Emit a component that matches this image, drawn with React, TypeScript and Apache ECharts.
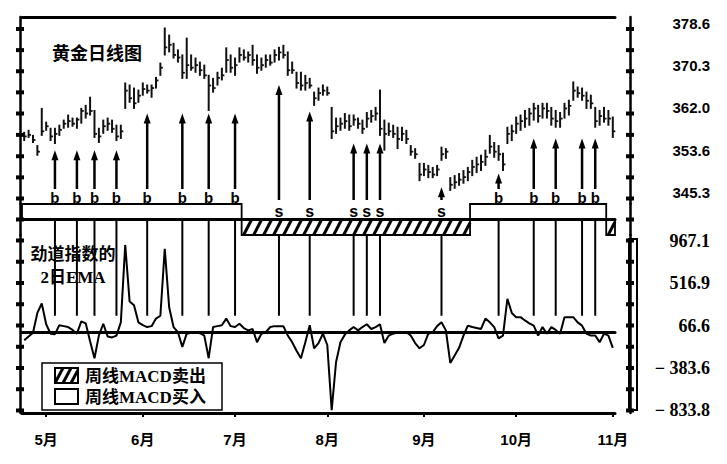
import React, { useEffect, useRef } from 'react';
import * as echarts from 'echarts';

// ---------- data ----------
const monthNames = ['4月', '5月', '6月', '7月', '8月', '9月', '10月', '11月'];
const tradingDaysPerMonth = [5, 22, 21, 21, 22, 21, 22, 1];

const highs = [
  358.3, 358.7, 357.7, 355.7, 363.0, 360.3, 359.1, 359.1, 359.7, 360.7,
  361.7, 361.1, 361.1, 363.0, 363.6, 365.2, 362.6, 359.1, 360.7, 361.1,
  360.7, 359.7, 359.7, 368.0, 367.6, 367.0, 366.6, 368.0, 367.6, 367.6,
  369.1, 371.9, 378.8, 377.4, 375.8, 374.5, 373.5, 376.8, 373.5, 372.9,
  372.1, 371.5, 369.5, 368.9, 370.1, 370.9, 374.9, 373.5, 372.9, 374.9,
  374.5, 374.1, 375.4, 373.5, 372.9, 373.5, 373.5, 374.5, 375.0, 375.4,
  374.1, 372.1, 370.1, 370.1, 369.5, 368.9, 366.2, 367.0, 367.6, 367.2,
  363.2, 361.1, 361.1, 362.0, 361.7, 361.7, 361.1, 360.7, 362.2, 362.6,
  363.2, 366.6, 360.7, 360.1, 359.7, 359.3, 359.3, 358.7, 355.7, 355.1,
  352.2, 352.2, 351.8, 351.4, 351.8, 355.4, 355.1, 349.4, 349.8, 350.2,
  350.8, 351.4, 352.8, 353.4, 353.8, 354.8, 357.7, 356.3, 355.7, 354.2,
  359.3, 359.7, 361.3, 361.7, 362.6, 363.0, 364.0, 363.6, 364.0, 364.0,
  363.2, 362.6, 362.2, 364.0, 364.6, 368.2, 367.2, 367.0, 366.2, 365.6,
  363.2, 362.6, 363.2, 362.6, 361.3,
];
const lows = [
  356.7, 357.3, 356.3, 353.8, 357.7, 358.7, 356.7, 356.1, 357.7, 359.1,
  359.3, 359.5, 359.1, 360.1, 361.1, 361.7, 357.3, 356.3, 358.1, 358.7,
  358.3, 356.7, 357.1, 363.0, 364.2, 363.0, 364.2, 365.6, 366.0, 365.2,
  367.0, 369.5, 373.5, 374.1, 372.9, 372.1, 368.9, 368.9, 370.5, 370.1,
  369.5, 368.9, 362.6, 366.2, 367.6, 368.6, 370.1, 370.1, 369.5, 372.1,
  372.5, 372.1, 371.5, 369.9, 370.5, 371.1, 371.5, 372.1, 372.5, 372.9,
  369.5, 369.9, 367.0, 366.6, 366.6, 367.0, 363.6, 364.6, 365.6, 365.6,
  357.1, 358.1, 358.7, 359.1, 358.7, 359.7, 359.1, 358.1, 359.3, 360.3,
  360.7, 357.7, 354.8, 357.7, 357.3, 355.1, 356.7, 356.1, 353.8, 353.2,
  348.8, 349.8, 349.4, 349.4, 349.8, 352.8, 353.2, 346.9, 347.3, 347.9,
  348.3, 348.8, 349.8, 350.4, 350.8, 351.8, 354.2, 353.4, 352.8, 350.8,
  356.1, 356.7, 358.1, 358.7, 359.3, 359.7, 360.7, 360.3, 361.1, 361.1,
  359.7, 359.3, 359.3, 361.1, 361.7, 364.6, 365.2, 364.6, 363.0, 363.0,
  359.3, 359.7, 360.3, 359.7, 357.3,
];
const closes = [
  357.5, 357.8, 356.8, 354.5, 358.5, 359.5, 357.5, 358.0, 358.8, 360.0,
  360.5, 360.0, 360.8, 362.5, 362.0, 362.5, 358.0, 357.5, 359.5, 360.0,
  359.0, 357.5, 358.5, 366.5, 365.0, 364.0, 365.5, 366.8, 366.5, 367.0,
  368.5, 371.0, 375.0, 375.5, 373.5, 373.0, 370.0, 371.5, 371.0, 371.5,
  370.5, 369.5, 367.5, 367.0, 369.0, 369.5, 372.5, 371.0, 371.5, 373.5,
  373.0, 373.5, 372.5, 371.0, 371.5, 372.5, 372.0, 373.5, 374.0, 373.5,
  370.5, 370.5, 368.0, 367.5, 368.0, 367.5, 365.0, 366.0, 366.5, 366.0,
  358.5, 359.5, 360.0, 360.5, 359.5, 360.8, 360.0, 359.0, 361.0, 361.5,
  362.0, 359.0, 358.0, 358.5, 358.0, 357.0, 358.0, 357.0, 354.5, 354.0,
  350.0, 351.0, 350.5, 350.0, 351.0, 354.0, 354.5, 348.0, 348.5, 349.0,
  349.5, 350.5, 351.5, 352.0, 352.5, 353.5, 355.5, 354.5, 354.0, 352.0,
  358.0, 358.5, 360.0, 360.5, 361.0, 362.0, 363.0, 361.5, 363.0, 362.5,
  361.0, 360.5, 361.0, 363.0, 363.5, 366.5, 366.0, 365.5, 364.5, 364.0,
  360.5, 361.5, 361.0, 361.0, 358.5,
];
// 2-day EMA of force index
const forceEma2 = [
  -90, -50, -10, 200, 300, 80, -20, -25, 70, 60,
  50, 20, -20, 110, 90, -100, -280, -40, 85, -50,
  -60, -40, 100, 920, 320, 280, 100, 70, 50, 60,
  140, 170, 880, 260, 50, -5, -160, -20, -10, -8,
  -15, -40, -280, 50, 60, 70, 140, 60, 50, 85,
  40, 15, 30, -110, -20, -5, 50, 60, 60, 60,
  -40, -110, -200, -280, -110, 70, -175, -120, -20, -140,
  -830, -320, -110, -30, 15, 50, 15, 50, 80, 30,
  50, 80, -120, -40, -20, -5, -5, -5, -40, -120,
  -175, -140, -20, -5, 60, 100, 15, -330, -250, -170,
  -40, 65, 50, 40, 30, 140, 100, 50, -70, -40,
  350, 200, 155, 155, 120, 90, 65, -40, 50, -20,
  50, 20, -20, 155, 155, 155, 100, 65, -20, -40,
  -40, -110, -20, -40, -170,
];

// [day index, arrow tip price]
const buySignals = [
  [7, 354.8], [12, 354.8], [16, 354.8], [21, 354.8],
  [28, 362.0], [36, 362.0], [42, 362.0], [48, 362.0],
  [108, 350.2], [116, 357.1], [121, 357.1], [127, 357.1], [130, 357.1],
];
const sellSignals = [
  [58, 367.6], [65, 362.4], [75, 356.1], [78, 356.1], [81, 356.1], [95, 347.5],
];
// [first day, last day, 1 = weekly MACD buy, -1 = weekly MACD sell]
const macdPeriods = [
  [0, 49, 1], [50, 101, -1], [102, 132, 1], [133, 134, -1],
];
const lowerSignalEnd = 170;

const priceMin = 344.22;
const priceMax = 380.96;
const priceTicks = [378.6, 374.45, 370.3, 366.15, 362.0, 357.8, 353.6, 349.45, 345.3];
const priceLabels = [378.6, 370.3, 362.0, 353.6, 345.3];
const bandTicks = [0];
const forceMin = -860.3;
const forceMax = 1025.4;
const forceTicks = [967.1, 742.0, 516.9, 291.75, 66.6, -158.5, -383.6, -608.7, -833.8];
const forceLabels = [967.1, 516.9, 66.6, -383.6, -833.8];

// ---------- categories ----------
const categories: string[] = [];
const monthStart = new Set<number>();
monthNames.forEach((m, mi) => {
  for (let d = 0; d < tradingDaysPerMonth[mi]; d++) {
    if (d === 0 && mi > 0) monthStart.add(categories.length);
    categories.push(m + '#' + (d + 1));
  }
});

function hatch(x: number, y: number, w: number, h: number, gap: number, dx: number, lw: number) {
  const out: any[] = [];
  for (let x0 = x - dx; x0 < x + w; x0 += gap) {
    const tmin = Math.max(0, (x - x0) / dx);
    const tmax = Math.min(1, (x + w - x0) / dx);
    if (tmax <= tmin) continue;
    out.push({
      type: 'line',
      shape: { x1: x0 + dx * tmin, y1: y + h - h * tmin, x2: x0 + dx * tmax, y2: y + h - h * tmax },
      style: { stroke: '#000', lineWidth: lw },
    });
  }
  return out;
}

const W = 727;
const GRID_LEFT = 22;
const GRID_RIGHT = 112;
const LEFT_OFFSET = 2;
const RIGHT_OFFSET = 15;
const grids = [
  { left: GRID_LEFT, right: GRID_RIGHT, top: 17, height: 187 },
  { left: GRID_LEFT, right: GRID_RIGHT, top: 204, height: 31 },
  { left: GRID_LEFT, right: GRID_RIGHT, top: 235, height: 178 },
];

function yAxes(gridIndex: number, min: number, max: number, labels: number[] | null, labelStyle: any) {
  const base = {
    type: 'value', gridIndex, min, max, splitLine: { show: false },
    axisLine: { show: true, onZero: false, lineStyle: { color: '#000', width: 2.5 } },
    axisTick: { show: false },
  };
  return [
    {
      ...base, position: 'right', offset: RIGHT_OFFSET,
      axisLabel: labels ? { show: true, customValues: labels, margin: 80, align: 'right', color: '#000', ...labelStyle } : { show: false },
    },
    { ...base, position: 'left', offset: LEFT_OFFSET, axisLabel: { show: false } },
  ];
}

// tick marks crossing both vertical axis lines (same linear mapping as the grid's value axis)
function axisTickMarks(gridIndex: number, min: number, max: number, ticks: number[]) {
  const g = grids[gridIndex];
  const xs = [GRID_LEFT - LEFT_OFFSET, W - GRID_RIGHT + RIGHT_OFFSET];
  const out: any[] = [];
  ticks.forEach((v) => {
    const y = g.top + ((max - v) / (max - min)) * g.height;
    xs.forEach((ax) => {
      out.push({ type: 'rect', z: 30, shape: { x: ax - 4, y: y - 2, width: 8, height: 4 }, style: { fill: '#000', stroke: 'none' } });
    });
  });
  return out;
}

const catAxisBase = {
  type: 'category', data: categories, boundaryGap: true,
  axisTick: { show: false }, axisLabel: { show: false }, splitLine: { show: false },
};

export default function App() {
  const ref = useRef<HTMLDivElement>(null);
  useEffect(() => {
    document.body.style.margin = '0';
    const chart = echarts.init(ref.current!, null, { renderer: 'svg' });
    const xAxis = [
      { ...catAxisBase, gridIndex: 0, position: 'top', axisLine: { show: true, onZero: false, lineStyle: { color: '#000', width: 3 } } },
      { ...catAxisBase, gridIndex: 1, position: 'bottom', z: 10, axisLine: { show: true, onZero: true, lineStyle: { color: '#000', width: 3 } } },
      {
        ...catAxisBase, gridIndex: 2, position: 'bottom',
        axisLine: { show: true, onZero: false, lineStyle: { color: '#000', width: 3 } },
        axisTick: { show: true, alignWithLabel: true, length: 4, interval: (i: number) => monthStart.has(i), lineStyle: { color: '#000', width: 2 } },
        axisLabel: {
          show: true, interval: (i: number) => monthStart.has(i), margin: 19,
          formatter: (v: string) => v.split('#')[0],
          color: '#000', fontSize: 15, fontWeight: 'bold', fontFamily: 'Liberation Sans, Noto Sans CJK SC',
        },
      },
      { ...catAxisBase, gridIndex: 2, position: 'top', axisLine: { show: true, onZero: true, lineStyle: { color: '#000', width: 3 } } },
    ];
    const yAxis = [
      ...yAxes(0, priceMin, priceMax, priceLabels, {
        fontSize: 15, fontWeight: 'bold', fontFamily: 'Liberation Sans',
        verticalAlign: 'bottom', lineHeight: 12,
        formatter: (v: number) => v.toFixed(1),
      }),
      ...yAxes(1, -1, 1, null, {}),
      ...yAxes(2, forceMin, forceMax, forceLabels, {
        fontSize: 18, fontWeight: 'bold', fontFamily: 'Liberation Serif',
        formatter: (v: number) => (v < 0 ? '\u2212 ' + Math.abs(v).toFixed(1) : v.toFixed(1)),
      }),
    ];
    // yAxis indices: price 0 (right), 1 (left); band 2, 3; force 4, 5

    const arrowSeries = (signals: number[][], baseGap: number) => ({
      type: 'custom', xAxisIndex: 0, yAxisIndex: 0, silent: true, z: 4,
      data: signals, encode: { x: 0, y: 1 },
      renderItem: (_p: any, api: any) => {
        const d = api.value(0);
        const tip = api.coord([d, api.value(1)]);
        const base = api.coord([d, priceMin]);
        const x = tip[0];
        return {
          type: 'group', children: [
            { type: 'line', shape: { x1: x, y1: base[1] - baseGap, x2: x, y2: tip[1] + 8 }, style: { stroke: '#000', lineWidth: 2.5 } },
            { type: 'polygon', shape: { points: [[x - 3.5, tip[1] + 10], [x + 3.5, tip[1] + 10], [x, tip[1]]] }, style: { fill: '#000' } },
          ],
        };
      },
    });

    const labelSeries = (signals: number[][], letter: string) => ({
      type: 'custom', xAxisIndex: 1, yAxisIndex: 2, silent: true, z: 12, clip: false,
      data: signals.map((s) => [s[0], 0]), encode: { x: 0, y: 1 },
      renderItem: (_p: any, api: any) => {
        const d = api.value(0);
        const x = api.coord([d, 0])[0];
        const yTop = api.coord([d, 1])[1];
        const yZero = api.coord([d, 0])[1];
        const yBot = api.coord([d, -1])[1];
        const children: any[] = [];
        if (letter === 'b') {
          children.push({ type: 'text', x, y: yTop - 7, style: { text: 'b', fill: '#000', fontSize: 15, fontWeight: 'bold', fontFamily: 'Liberation Sans', align: 'center', verticalAlign: 'middle' } });
          children.push({ type: 'line', shape: { x1: x, y1: yZero, x2: x, y2: yBot }, style: { stroke: '#000', lineWidth: 2 } });
        } else {
          children.push({ type: 'text', x, y: (yTop + yZero) / 2, style: { text: 's', fill: '#000', fontSize: 16, fontWeight: 'bold', fontFamily: 'Liberation Sans', align: 'center', verticalAlign: 'middle' } });
        }
        return { type: 'group', children };
      },
    });

    const series: any[] = [
      {
        type: 'custom', xAxisIndex: 0, yAxisIndex: 0, silent: true, z: 3,
        data: highs.map((h, i) => [i, h, lows[i], closes[i]]),
        encode: { x: 0, y: [1, 2, 3] },
        renderItem: (_p: any, api: any) => {
          const i = api.value(0);
          const top = api.coord([i, api.value(1)]);
          const bot = api.coord([i, api.value(2)]);
          const cl = api.coord([i, api.value(3)]);
          return {
            type: 'group', children: [
              { type: 'line', shape: { x1: top[0], y1: top[1] - 0.5, x2: bot[0], y2: bot[1] + 0.5 }, style: { stroke: '#111', lineWidth: 2 } },
              { type: 'line', shape: { x1: cl[0], y1: cl[1], x2: cl[0] + 2.5, y2: cl[1] }, style: { stroke: '#111', lineWidth: 1.8 } },
            ],
          };
        },
      },
      arrowSeries(buySignals, 15),
      arrowSeries(sellSignals, 4),
      {
        type: 'custom', xAxisIndex: 1, yAxisIndex: 2, silent: true, z: 5,
        data: macdPeriods, encode: { x: [0, 1], y: 2 },
        renderItem: (_p: any, api: any) => {
          const s = api.value(0), e = api.value(1), k = api.value(2);
          const bw = api.size([1, 0])[0];
          const x0 = api.coord([s, 0])[0] - bw / 2;
          const x1 = api.coord([e, 0])[0] + bw / 2;
          const yZero = api.coord([s, 0])[1];
          const yEdge = api.coord([s, k])[1];
          const top = Math.min(yZero, yEdge);
          const h = Math.abs(yEdge - yZero);
          const children: any[] = [
            { type: 'rect', shape: { x: x0, y: top, width: x1 - x0, height: h }, style: { fill: '#fff', stroke: '#000', lineWidth: 1.8 } },
          ];
          if (k < 0) children.push(...hatch(x0, top, x1 - x0, h, 10, 8, 3));
          return { type: 'group', children };
        },
      },
      labelSeries(buySignals, 'b'),
      labelSeries(sellSignals, 's'),
      {
        type: 'custom', xAxisIndex: 2, yAxisIndex: 4, silent: true, z: 3,
        data: [...buySignals, ...sellSignals].map((s) => [s[0], lowerSignalEnd]),
        encode: { x: 0, y: 1 },
        renderItem: (_p: any, api: any) => {
          const d = api.value(0);
          const a = api.coord([d, forceMax]);
          const b = api.coord([d, api.value(1)]);
          return { type: 'line', shape: { x1: a[0], y1: a[1], x2: b[0], y2: b[1] }, style: { stroke: '#000', lineWidth: 2 } };
        },
      },
      {
        type: 'line', xAxisIndex: 2, yAxisIndex: 4, data: forceEma2, showSymbol: false, symbol: 'none',
        lineStyle: { color: '#000', width: 2 }, z: 4, silent: true,
      },
    ];

    const cjk = 'Noto Sans CJK SC';
    const mixed = 'Liberation Serif, Noto Sans CJK SC';
    const graphic: any[] = [
      { type: 'text', x: 52, y: 52, z: 20, style: { text: '黄金日线图', fill: '#000', fontSize: 18, fontWeight: 'bold', fontFamily: cjk, align: 'left', verticalAlign: 'middle' } },
      { type: 'text', x: 73, y: 252, z: 20, style: { text: '劲道指数的', fill: '#000', fontSize: 17, fontWeight: 'bold', fontFamily: cjk, align: 'center', verticalAlign: 'middle' } },
      { type: 'text', x: 73, y: 277, z: 20, style: { text: '2日EMA', fill: '#000', fontSize: 17, fontWeight: 'bold', fontFamily: mixed, align: 'center', verticalAlign: 'middle' } },
      { type: 'rect', z: 20, shape: { x: 42, y: 363, width: 180, height: 47 }, style: { fill: '#fff', stroke: '#000', lineWidth: 1.5 } },
      { type: 'rect', z: 21, shape: { x: 55, y: 368, width: 23, height: 15 }, style: { fill: '#fff', stroke: '#000', lineWidth: 2 } },
      ...hatch(55, 368, 23, 15, 8, 8, 3).map((l) => ({ ...l, z: 21 })),
      { type: 'rect', z: 21, shape: { x: 55, y: 389, width: 23, height: 15 }, style: { fill: '#fff', stroke: '#000', lineWidth: 2 } },
      { type: 'text', x: 85, y: 376, z: 21, style: { text: '周线MACD卖出', fill: '#000', fontSize: 17, fontWeight: 'bold', fontFamily: mixed, align: 'left', verticalAlign: 'middle' } },
      { type: 'text', x: 85, y: 397, z: 21, style: { text: '周线MACD买入', fill: '#000', fontSize: 17, fontWeight: 'bold', fontFamily: mixed, align: 'left', verticalAlign: 'middle' } },
      { type: 'rect', z: 20, shape: { x: 629, y: 239, width: 8, height: 171 }, style: { fill: 'none', stroke: '#000', lineWidth: 2 } },
      ...axisTickMarks(0, priceMin, priceMax, priceTicks),
      ...axisTickMarks(1, -1, 1, bandTicks),
      ...axisTickMarks(2, forceMin, forceMax, forceTicks),
    ];

    chart.setOption({
      animation: false,
      backgroundColor: '#fff',
      grid: grids,
      xAxis,
      yAxis,
      series,
      graphic,
    });
    return () => chart.dispose();
  }, []);
  return <div ref={ref} style={{ position: 'absolute', left: 0, top: 0, width: 727, height: 464 }} />;
}
